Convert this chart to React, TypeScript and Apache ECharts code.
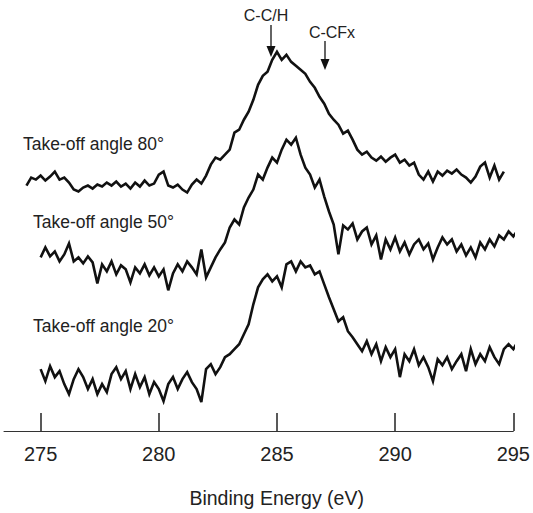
import React, { useEffect, useRef } from "react";
import * as echarts from "echarts";

// Binding-energy sampling grids (eV)
const START_80 = 274.4;
const START_50 = 275.0;
const START_20 = 275.0;
const STEP = 0.2;

// Intensities (arbitrary units, curves offset as in the figure)
const angle80 = [
  246, 254, 252, 256, 251, 255, 260, 252, 254, 249, 242, 240, 244, 246, 243, 247, 245, 249, 246, 250,
  245, 248, 243, 249, 245, 251, 246, 248, 257, 260, 246, 244, 247, 242, 239, 247, 252, 248, 256, 267,
  274, 272, 277, 282, 299, 302, 312, 320, 332, 347, 356, 360, 372, 380, 372, 377, 370, 366, 362, 358,
  350, 344, 335, 328, 318, 312, 307, 298, 301, 292, 282, 277, 280, 274, 271, 275, 270, 274, 277, 269,
  272, 266, 269, 257, 252, 260, 250, 260, 256, 261, 258, 262, 257, 254, 249, 255, 265, 269, 254, 266,
  252, 260,
];

const angle50 = [
  174, 184, 175, 180, 170, 177, 188, 170, 174, 168, 175, 169, 148, 167, 160, 170, 157, 166, 162, 149,
  164, 158, 167, 156, 164, 155, 162, 141, 158, 167, 160, 170, 164, 157, 182, 154, 164, 174, 182, 189,
  204, 212, 207, 224, 234, 242, 257, 252, 264, 274, 269, 282, 292, 287, 294, 277, 264, 257, 244, 252,
  235, 220, 207, 177, 206, 202, 208, 192, 200, 204, 187, 196, 172, 192, 182, 194, 180, 189, 177, 187,
  192, 182, 188, 172, 184, 194, 187, 192, 180, 187, 176, 184, 174, 189, 182, 192, 185, 196, 192, 200,
  195, 202, 196,
];

const angle20 = [
  62, 50, 65, 54, 60, 47, 37, 52, 62, 54, 42, 52, 37, 47, 39, 57, 64, 52, 60, 42,
  57, 44, 54, 37, 49, 42, 30, 47, 54, 42, 52, 59, 49, 42, 29, 62, 67, 57, 64, 74,
  77, 82, 87, 97, 107, 127, 144, 152, 157, 150, 155, 144, 167, 170, 160, 170, 164, 166, 157, 160,
  147, 134, 122, 110, 114, 100, 94, 87, 80, 90, 77, 87, 70, 84, 74, 82, 54, 77, 70, 82,
  66, 74, 64, 50, 72, 66, 74, 62, 70, 77, 60, 82, 67, 77, 70, 84, 74, 67, 82, 87,
  82, 90, 85,
];

const TICKS = [275, 280, 285, 290, 295];

const toPairs = (start: number, vals: number[]) =>
  vals.map((v, i) => [Math.round((start + i * STEP) * 100) / 100, v]);

const FONT = "'Liberation Sans', Arial, Helvetica, sans-serif";
const TXT = "#222";

export default function App() {
  const ref = useRef<HTMLDivElement>(null);

  useEffect(() => {
    if (!ref.current) return;
    const chart = echarts.init(ref.current, undefined, { renderer: "svg" });
    const lineSeries = (name: string, data: number[][]) => ({
      name,
      type: "line",
      data,
      symbol: "none",
      clip: false,
      lineStyle: { color: "#111", width: 2.6, join: "miter" },
    });

    const arrow = (x: number, y1: number, y2: number) => [
      {
        type: "line",
        shape: { x1: x, y1, x2: x, y2: y2 - 6 },
        style: { stroke: "#111", lineWidth: 1.3 },
      },
      {
        type: "polygon",
        shape: { points: [[x - 4.5, y2 - 11], [x + 4.5, y2 - 11], [x, y2]] },
        style: { fill: "#111" },
      },
    ];

    chart.setOption({
      animation: false,
      backgroundColor: "#fff",
      grid: { left: 4, right: 17, top: 0, bottom: 81 },
      xAxis: {
        type: "value",
        min: 273.45,
        max: 295,
        name: "Binding Energy (eV)",
        nameLocation: "middle",
        nameGap: 57,
        nameTextStyle: {
          fontFamily: FONT,
          fontSize: 19.5,
          color: TXT,
          padding: [0, 0, 0, 36],
        },
        axisLine: { lineStyle: { color: "#333", width: 1 } },
        axisTick: {
          inside: true,
          length: 18,
          customValues: TICKS,
          lineStyle: { color: "#222", width: 1.5 },
        },
        axisLabel: {
          customValues: TICKS,
          margin: 13,
          fontFamily: FONT,
          fontSize: 20,
          color: TXT,
        },
        splitLine: { show: false },
      },
      yAxis: { type: "value", min: 0, max: 432, show: false },
      series: [
        lineSeries("Take-off angle 80°", toPairs(START_80, angle80)),
        lineSeries("Take-off angle 50°", toPairs(START_50, angle50)),
        lineSeries("Take-off angle 20°", toPairs(START_20, angle20)),
      ],
      graphic: [
        {
          type: "text",
          left: 23,
          top: 135,
          style: { text: "Take-off angle 80°", font: `17.5px ${FONT}`, fill: TXT },
        },
        {
          type: "text",
          left: 33,
          top: 213,
          style: { text: "Take-off angle 50°", font: `17.5px ${FONT}`, fill: TXT },
        },
        {
          type: "text",
          left: 33,
          top: 317,
          style: { text: "Take-off angle 20°", font: `17.5px ${FONT}`, fill: TXT },
        },
        {
          type: "text",
          x: 266,
          y: 15,
          style: {
            text: "C-C/H",
            font: `16px ${FONT}`,
            fill: TXT,
            align: "center",
            verticalAlign: "middle",
          },
        },
        {
          type: "text",
          x: 332,
          y: 32,
          style: {
            text: "C-CFx",
            font: `16px ${FONT}`,
            fill: TXT,
            align: "center",
            verticalAlign: "middle",
          },
        },
        ...arrow(271, 25, 57),
        ...arrow(325, 41, 70),
      ],
    });
    return () => chart.dispose();
  }, []);

  return (
    <div
      ref={ref}
      style={{ position: "fixed", left: 0, top: 0, width: 533, height: 513, background: "#fff" }}
    />
  );
}
